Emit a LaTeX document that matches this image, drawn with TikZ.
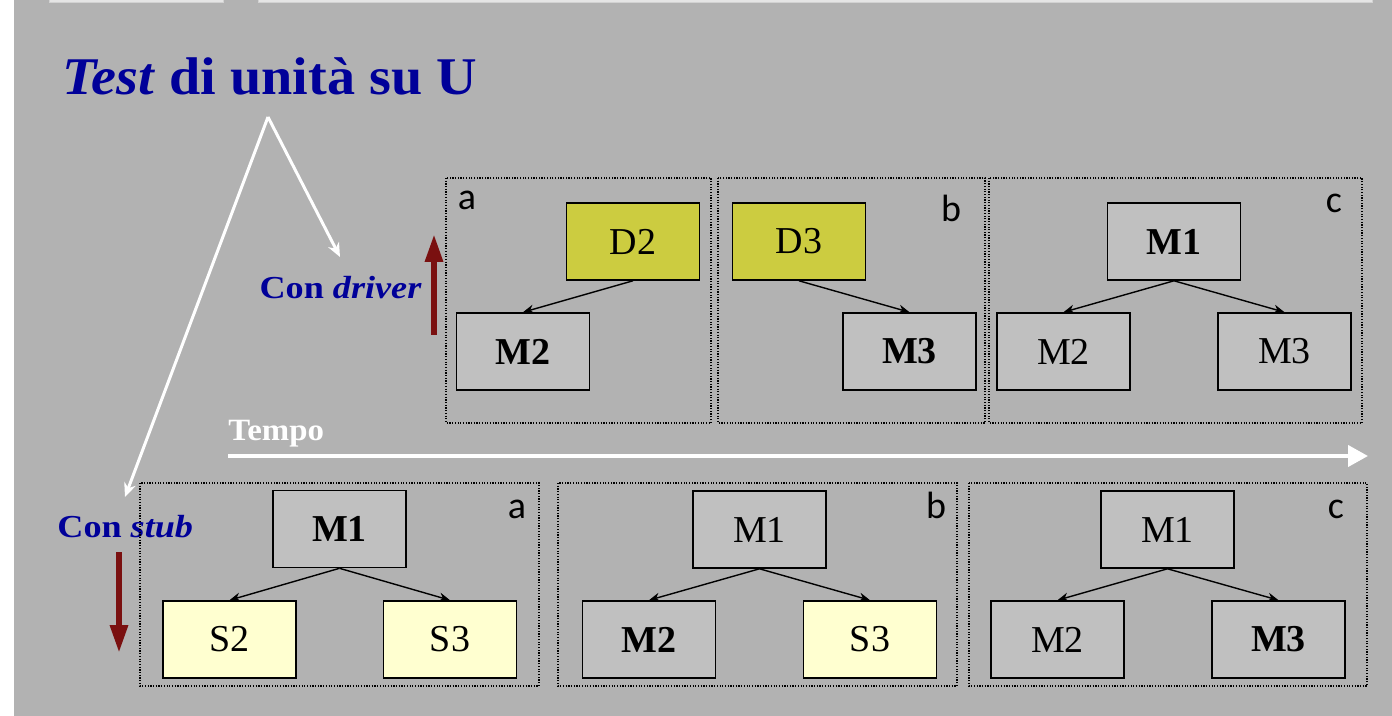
\documentclass[tikz,border=0pt]{standalone}
\usepackage{fontspec}
\setmainfont{Liberation Serif}
\newfontfamily\letterfont{Carlito}
\newfontfamily\ttlfont{Liberation Serif}[FakeStretch=1.06]
\newfontfamily\capfont{Liberation Serif}[FakeStretch=1.13]
\usetikzlibrary{arrows.meta}
\definecolor{slide}{RGB}{178,178,178}
\definecolor{modgray}{RGB}{192,192,192}
\definecolor{drvcol}{RGB}{204,204,64}
\definecolor{stubcol}{RGB}{255,255,208}
\definecolor{ttlblue}{RGB}{0,0,153}
\definecolor{darkred}{RGB}{122,16,16}
\begin{document}
\begin{tikzpicture}[x=0.5pt,y=-0.5pt,
    mod/.style={draw,line width=0.8pt,fill=modgray,minimum width=66.5pt,minimum height=38.5pt,inner sep=0pt,font=\fontsize{19}{19}\selectfont},
    bmod/.style={mod,font=\fontsize{19}{19}\selectfont\bfseries},
    drv/.style={mod,fill=drvcol},
    stb/.style={mod,fill=stubcol},
    panel/.style={draw,line width=0.6pt,dash pattern=on 0.6pt off 0.75pt},
    lc/.style={anchor=base,inner sep=0pt,font=\letterfont\fontsize{19}{19}\selectfont},
    call/.style={line width=0.7pt,-{Stealth[length=5.5pt,width=4.5pt]}},
    wline/.style={white,line width=1.5pt,-{Stealth[length=7pt,width=6pt]}},
    redarr/.style={darkred,line width=3pt,-{Triangle[length=14pt,width=8.5pt]}},
    blu/.style={inner sep=0pt,text=ttlblue,font=\capfont\fontsize{16}{16}\selectfont\bfseries}]
    \useasboundingbox (0,0) rectangle (1392,716);
    \fill[white] (0,0) rectangle (1392,716);
    \fill[slide] (14,0) rectangle (1392,716);
    \filldraw[fill=gray!20,draw=gray!35] (49,-3) rectangle (223,2) (258,-3) rectangle (1372,2);
    % titolo e didascalie
    \node[blu,anchor=base west,font=\ttlfont\fontsize{26.5}{30}\selectfont\bfseries] (title) at (62,95) {\textit{Test} di unità su U};
    \node[blu,anchor=base east] (cdrv) at (422,299) {Con \textit{driver}};
    \node[blu,anchor=base west] (cstb) at (57,538) {Con \textit{stub}};
    \node[anchor=base west,inner sep=0pt,text=white,font=\ttlfont\fontsize{15.5}{16}\selectfont\bfseries] (tempo) at (228,441) {Tempo};
    \coordinate (apex) at (268,117);
    \coordinate (drvtip) at (340,257);
    \coordinate (stbtip) at (125,497);
    \draw[wline] (apex) -- (drvtip);
    \draw[wline] (apex) -- (stbtip);
    \coordinate (up0) at (434,335); \coordinate (up1) at (434,234);
    \coordinate (dn0) at (119,552); \coordinate (dn1) at (119,653);
    \draw[redarr] (up0) -- (up1);
    \draw[redarr] (dn0) -- (dn1);
    \coordinate (t0) at (228,456); \coordinate (t1) at (1368,456);
    \draw[white,line width=2pt,-{Triangle[length=10pt,width=10.5pt]}] (t0) -- (t1);
    % riquadri
    \foreach \x/\y/\X/\Y/\l/\bx/\by [count=\i] in {446/178/711/423/a/467/210,718/178/985/423/b/951/222,989/178/1362/423/c/1334/213,
        140/483/539/686/a/517/518,558/483/957/686/b/936/518,969/483/1367/686/c/1336/518} {
        \draw[panel] (\x,\y) rectangle (\X,\Y);
        \node[lc] (lbl\i) at (\bx,\by) {\l};
    }
    % moduli con driver
    \node[drv] (aD2) at (633,241.5) {D2};
    \node[bmod] (aM2) at (523,351.5) {M2};
    \node[drv] (bD3) at (799,241.5) {D3};
    \node[bmod] (bM3) at (909.5,351.5) {M3};
    \node[bmod] (cM1) at (1174,241.5) {M1};
    \node[mod] (cM2) at (1063.5,351.5) {M2};
    \node[mod] (cM3) at (1284.5,351.5) {M3};
    % moduli con stub
    \node[bmod] (dM1) at (339.5,529) {M1};
    \node[stb] (dS2) at (229.5,639.5) {S2};
    \node[stb] (dS3) at (450,639.5) {S3};
    \node[mod] (eM1) at (759.5,529.5) {M1};
    \node[bmod] (eM2) at (649,639.5) {M2};
    \node[stb] (eS3) at (870,639.5) {S3};
    \node[mod] (fM1) at (1167.5,529.5) {M1};
    \node[mod] (fM2) at (1057.5,639.5) {M2};
    \node[bmod] (fM3) at (1278.5,639.5) {M3};
    \foreach \p/\c in {aD2/aM2,bD3/bM3,cM1/cM2,cM1/cM3,dM1/dS2,dM1/dS3,eM1/eM2,eM1/eS3,fM1/fM2,fM1/fM3}
        \draw[call] (\p.south) -- (\c.north);
\end{tikzpicture}
\end{document}
